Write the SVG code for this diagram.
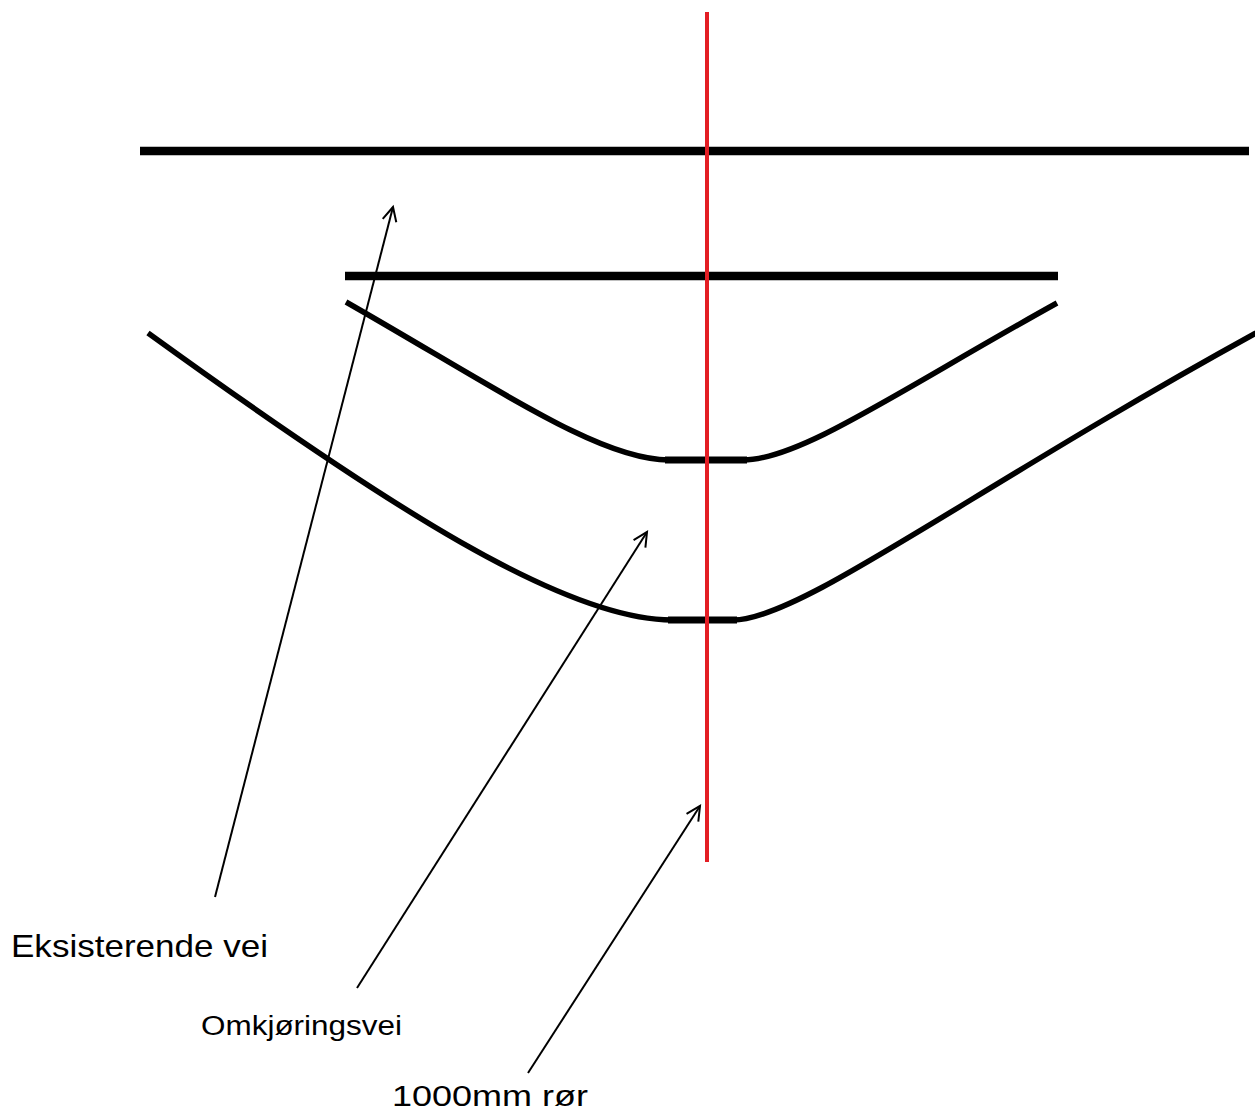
<svg xmlns="http://www.w3.org/2000/svg" width="1255" height="1119" viewBox="0 0 1255 1119">
<style>
.road{fill:none;stroke:#000;stroke-width:8.5}
.curve{fill:none;stroke:#000;stroke-width:5.5}
.flat{fill:none;stroke:#000;stroke-width:7}
.lead{fill:none;stroke:#000;stroke-width:2}
.lbl{font-family:"Liberation Sans",Arial,sans-serif;fill:#000}
</style>
<defs>
<marker id="arr" markerWidth="20" markerHeight="20" refX="16" refY="8" orient="auto" markerUnits="userSpaceOnUse">
<path d="M2,1 L16,8 L2,15" fill="none" stroke="#000" stroke-width="2"/>
</marker>
</defs>
<rect width="1255" height="1119" fill="#fff"/>
<g id="eksisterende-vei">
<line class="road" x1="140" y1="151" x2="1249" y2="151"/>
<path class="curve" d="M148,333 C390,508 565,620 672,620 L733,620 C800,620 970,490 1256,333"/>
<line class="flat" x1="668" y1="620" x2="737" y2="620"/>
</g>
<g id="omkjoringsvei">
<line class="road" x1="345" y1="276" x2="1058" y2="276"/>
<path class="curve" d="M346,302 C500,390 600,460 669,460 L743,460 C800,460 900,390 1057,303"/>
<line class="flat" x1="665" y1="460" x2="747" y2="460"/>
</g>
<g id="ror">
<line x1="707" y1="12" x2="707" y2="862" stroke="#e31e24" stroke-width="4"/>
</g>
<g id="connectors">
<line class="lead" x1="215" y1="897" x2="393" y2="207" marker-end="url(#arr)"/>
<line class="lead" x1="357" y1="988" x2="647" y2="532" marker-end="url(#arr)"/>
<line class="lead" x1="528" y1="1073" x2="700" y2="806" marker-end="url(#arr)"/>
</g>
<g id="labels">
<text class="lbl" x="11" y="957" font-size="32" textLength="257" lengthAdjust="spacingAndGlyphs">Eksisterende vei</text>
<text class="lbl" x="201" y="1035" font-size="27" textLength="201" lengthAdjust="spacingAndGlyphs">Omkjøringsvei</text>
<text class="lbl" x="392" y="1106" font-size="29" textLength="196" lengthAdjust="spacingAndGlyphs">1000mm rør</text>
</g>
</svg>
